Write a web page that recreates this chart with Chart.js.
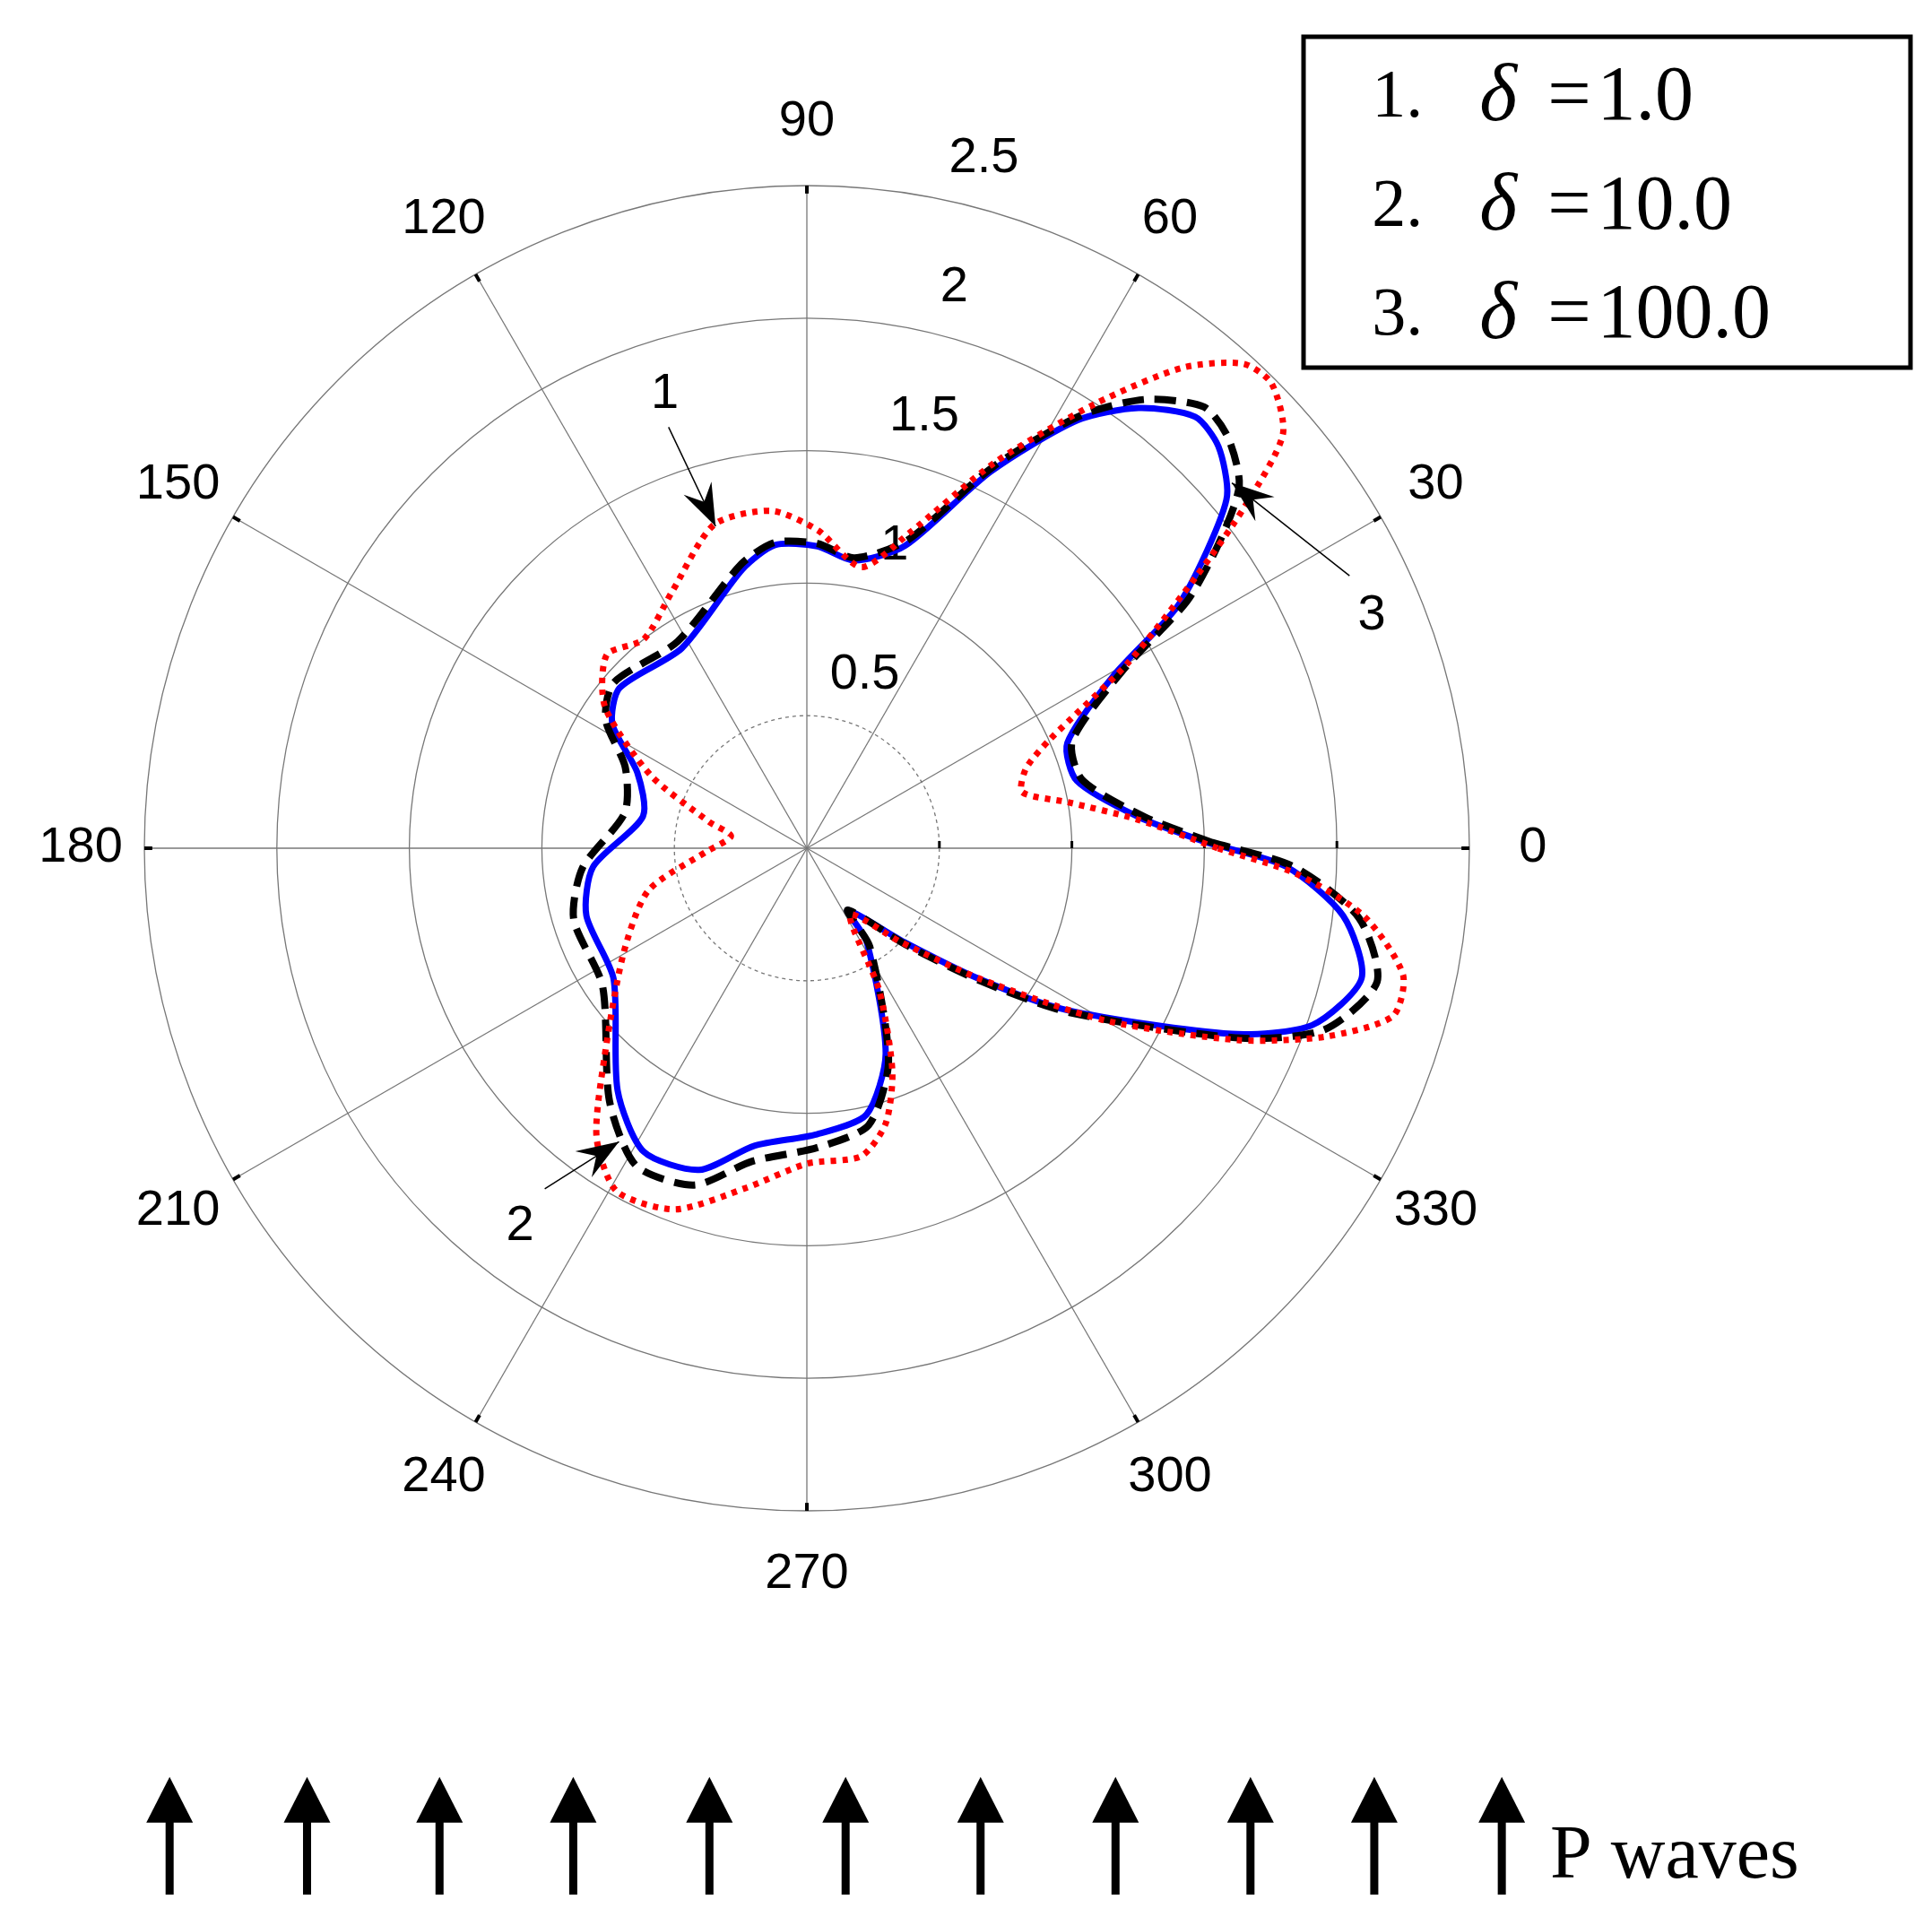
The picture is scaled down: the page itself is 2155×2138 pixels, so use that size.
<!DOCTYPE html><html><head><meta charset="utf-8">
<script src="https://cdn.jsdelivr.net/npm/chart.js@4/dist/chart.umd.min.js"></script>
<style>html,body{margin:0;padding:0;background:#fff}#c{display:block}</style></head><body>
<canvas id="c" width="2155" height="2138"></canvas>
<script>
const angleTicks=[0,30,60,90,120,150,180,210,240,270,300,330];
const radialTicks=[0.5,1,1.5,2,2.5];
const seriesNames=["1. δ = 1.0","2. δ = 10.0","3. δ = 100.0"];
// [angle deg, radius]
const blueTheta=[0.8,5.3,14,22,29.4,33,36.6,40,44.3,48,53,57.7,64,72,80.7,88,96,103,122,139.5,147.5,156,169,185,197,214,232,241.7,251.5,260,272,282.6,291,302.6,303.4,316,322.7,328,336.4,340.7,346.8,352.8,357.8,360.8];
const blueR=[1.51,1.26,1.05,1.06,1.33,1.66,1.88,2.07,2.17,2.19,2.08,1.91,1.58,1.20,1.10,1.14,1.15,1.08,0.89,0.93,0.87,0.70,0.63,0.81,0.87,0.88,1.16,1.30,1.28,1.14,1.08,1.03,0.83,0.42,0.28,0.51,0.81,1.15,1.75,2.02,2.15,2.04,1.81,1.51];
const blackTheta=[0.8,5.3,14,22,29.4,33,36.6,40,44.3,48,53,57.7,64,72,80.7,88,96,103,122,139.5,147.5,156,169,185,197,214,232,241.7,251.5,260,272,282.6,291,302.6,303.4,316,322.7,328,336.4,340.7,346.8,352.8,357.8,360.8];
const blackR=[1.53,1.28,1.07,1.08,1.37,1.71,1.94,2.13,2.22,2.24,2.12,1.93,1.60,1.22,1.11,1.15,1.16,1.10,0.92,0.96,0.90,0.75,0.70,0.85,0.92,0.93,1.21,1.36,1.34,1.20,1.13,1.07,0.86,0.44,0.28,0.53,0.83,1.17,1.79,2.07,2.21,2.10,1.84,1.53];
const redTheta=[0,5,10,14.6,20,24,30,35,38,41,45,48,52,57,64,72,79,88,96,106,118,128,136,145,155,165,171,182,195,210,226,234,241,250,260,270,280,286,291,297,303,315,323,330,336,340,344,348,353,357,360];
const redR=[1.55,1.25,1.0,0.84,0.88,1.0,1.4,1.8,2.1,2.38,2.48,2.46,2.3,2.0,1.62,1.25,1.08,1.2,1.28,1.27,1.09,1.0,1.05,0.93,0.65,0.38,0.29,0.38,0.62,0.8,1.1,1.35,1.48,1.45,1.3,1.19,1.18,1.08,0.9,0.6,0.3,0.5,0.82,1.3,1.78,2.08,2.3,2.3,2.12,1.85,1.55];
const toXY=(th,r)=>th.map((t,i)=>({x:r[i]*Math.cos(t*Math.PI/180),y:r[i]*Math.sin(t*Math.PI/180)}));
const S=1.381;
const grid={id:'grid',beforeDatasetsDraw(ch){
 const c=ch.ctx,xs=ch.scales.x,ys=ch.scales.y;
 const P=(a,r)=>[xs.getPixelForValue(r*Math.cos(a*Math.PI/180)),ys.getPixelForValue(r*Math.sin(a*Math.PI/180))];
 const cx=xs.getPixelForValue(0),cy=ys.getPixelForValue(0),u=xs.getPixelForValue(1)-cx;
 c.save();c.strokeStyle='#777';c.lineWidth=1.3;
 radialTicks.forEach(r=>{c.setLineDash(r===0.5?[4,4]:[]);c.beginPath();c.arc(cx,cy,r*u,0,2*Math.PI);c.stroke();});
 c.setLineDash([]);
 angleTicks.forEach(a=>{const [x,y]=P(a,2.5);c.beginPath();c.moveTo(cx,cy);c.lineTo(x,y);c.stroke();
  c.strokeStyle='#000';c.lineWidth=4;const [x1,y1]=P(a,2.47);c.beginPath();c.moveTo(x1,y1);c.lineTo(x,y);c.stroke();c.strokeStyle='#777';c.lineWidth=1.3;});
 c.strokeStyle='#000';c.lineWidth=3;
 [0.5,1,1.5,2].forEach(r=>{const [x,y]=P(0,r);c.beginPath();c.moveTo(x,y-8);c.lineTo(x,y);c.stroke();});
 c.fillStyle='#000';c.font='56px "Liberation Sans", Arial';c.textAlign='center';c.textBaseline='middle';
 angleTicks.forEach(a=>{const [x,y]=P(a,2.74);c.fillText(String(a),x,y);});
 radialTicks.forEach(r=>{const [x,y]=P(77,r+0.17);c.fillText(String(r),x+20,y);});
 c.restore();}};
const annot={id:'annot',afterDatasetsDraw(ch){
 const c=ch.ctx;c.save();c.fillStyle='#000';c.strokeStyle='#000';
 const arrow=(x0,y0,x1,y1)=>{x0*=S;y0*=S;x1*=S;y1*=S;c.lineWidth=1.5;c.beginPath();c.moveTo(x0,y0);c.lineTo(x1,y1);c.stroke();
  const a=Math.atan2(y1-y0,x1-x0),L=50,w=0.35;c.beginPath();c.moveTo(x1,y1);c.lineTo(x1-L*Math.cos(a-w),y1-L*Math.sin(a-w));
  c.lineTo(x1-L*0.6*Math.cos(a),y1-L*0.6*Math.sin(a));c.lineTo(x1-L*Math.cos(a+w),y1-L*Math.sin(a+w));c.closePath();c.fill();};
 c.font='56px "Liberation Sans", Arial';c.textAlign='center';c.textBaseline='middle';
 c.fillText('1',537*S,318*S);arrow(540,345,578,425);
 c.fillText('3',1108*S,497*S);arrow(1090,465,995,390);
 c.fillText('2',420*S,990*S);arrow(440,960,500,922);
 c.lineWidth=5;c.strokeRect(1454,41,677,369);
 c.textAlign='left';
 ['1.','2.','3.'].forEach((n,i)=>{const y=(80+88*i)*S;c.font='76px "Liberation Serif", "Times New Roman"';c.fillText(n,1108*S,y);
  c.font='italic 90px "Liberation Serif"';c.fillText('δ',1195*S,y);
  c.font='86px "Liberation Serif"';c.fillText('=',1250*S,y);c.fillText(['1.0','10.0','100.0'][i],1290*S,y);});
 [137,248,355,463,573,683,792,901,1010,1110,1213].forEach(x=>{x*=S;c.lineWidth=9;c.beginPath();c.moveTo(x,1530*S);c.lineTo(x,1465*S);c.stroke();
  c.beginPath();c.moveTo(x,1435*S);c.lineTo(x-26,1472*S);c.lineTo(x+26,1472*S);c.closePath();c.fill();});
 c.font='84px "Liberation Serif"';c.fillText('P waves',1252*S,1500*S);
 c.restore();}};
new Chart(document.getElementById('c'),{type:'scatter',
 data:{datasets:[
  {label:seriesNames[0],data:toXY(redTheta,redR),showLine:true,borderColor:'#ff0000',borderWidth:7,borderDash:[6,7],pointRadius:0,tension:0.25},
  {label:seriesNames[1],data:toXY(blackTheta,blackR),showLine:true,borderColor:'#000',borderWidth:8,borderDash:[24,12],pointRadius:0,tension:0.25},
  {label:seriesNames[2],data:toXY(blueTheta,blueR),showLine:true,borderColor:'#0000ff',borderWidth:7,pointRadius:0,tension:0.25}]},
 options:{responsive:false,animation:false,events:[],
  layout:{padding:{left:161,right:516,top:207,bottom:453}},
  plugins:{legend:{display:false},tooltip:{enabled:false}},
  scales:{x:{type:'linear',min:-2.5,max:2.5,display:false},y:{type:'linear',min:-2.5,max:2.5,display:false}}},
 plugins:[grid,annot]});
</script></body></html>
